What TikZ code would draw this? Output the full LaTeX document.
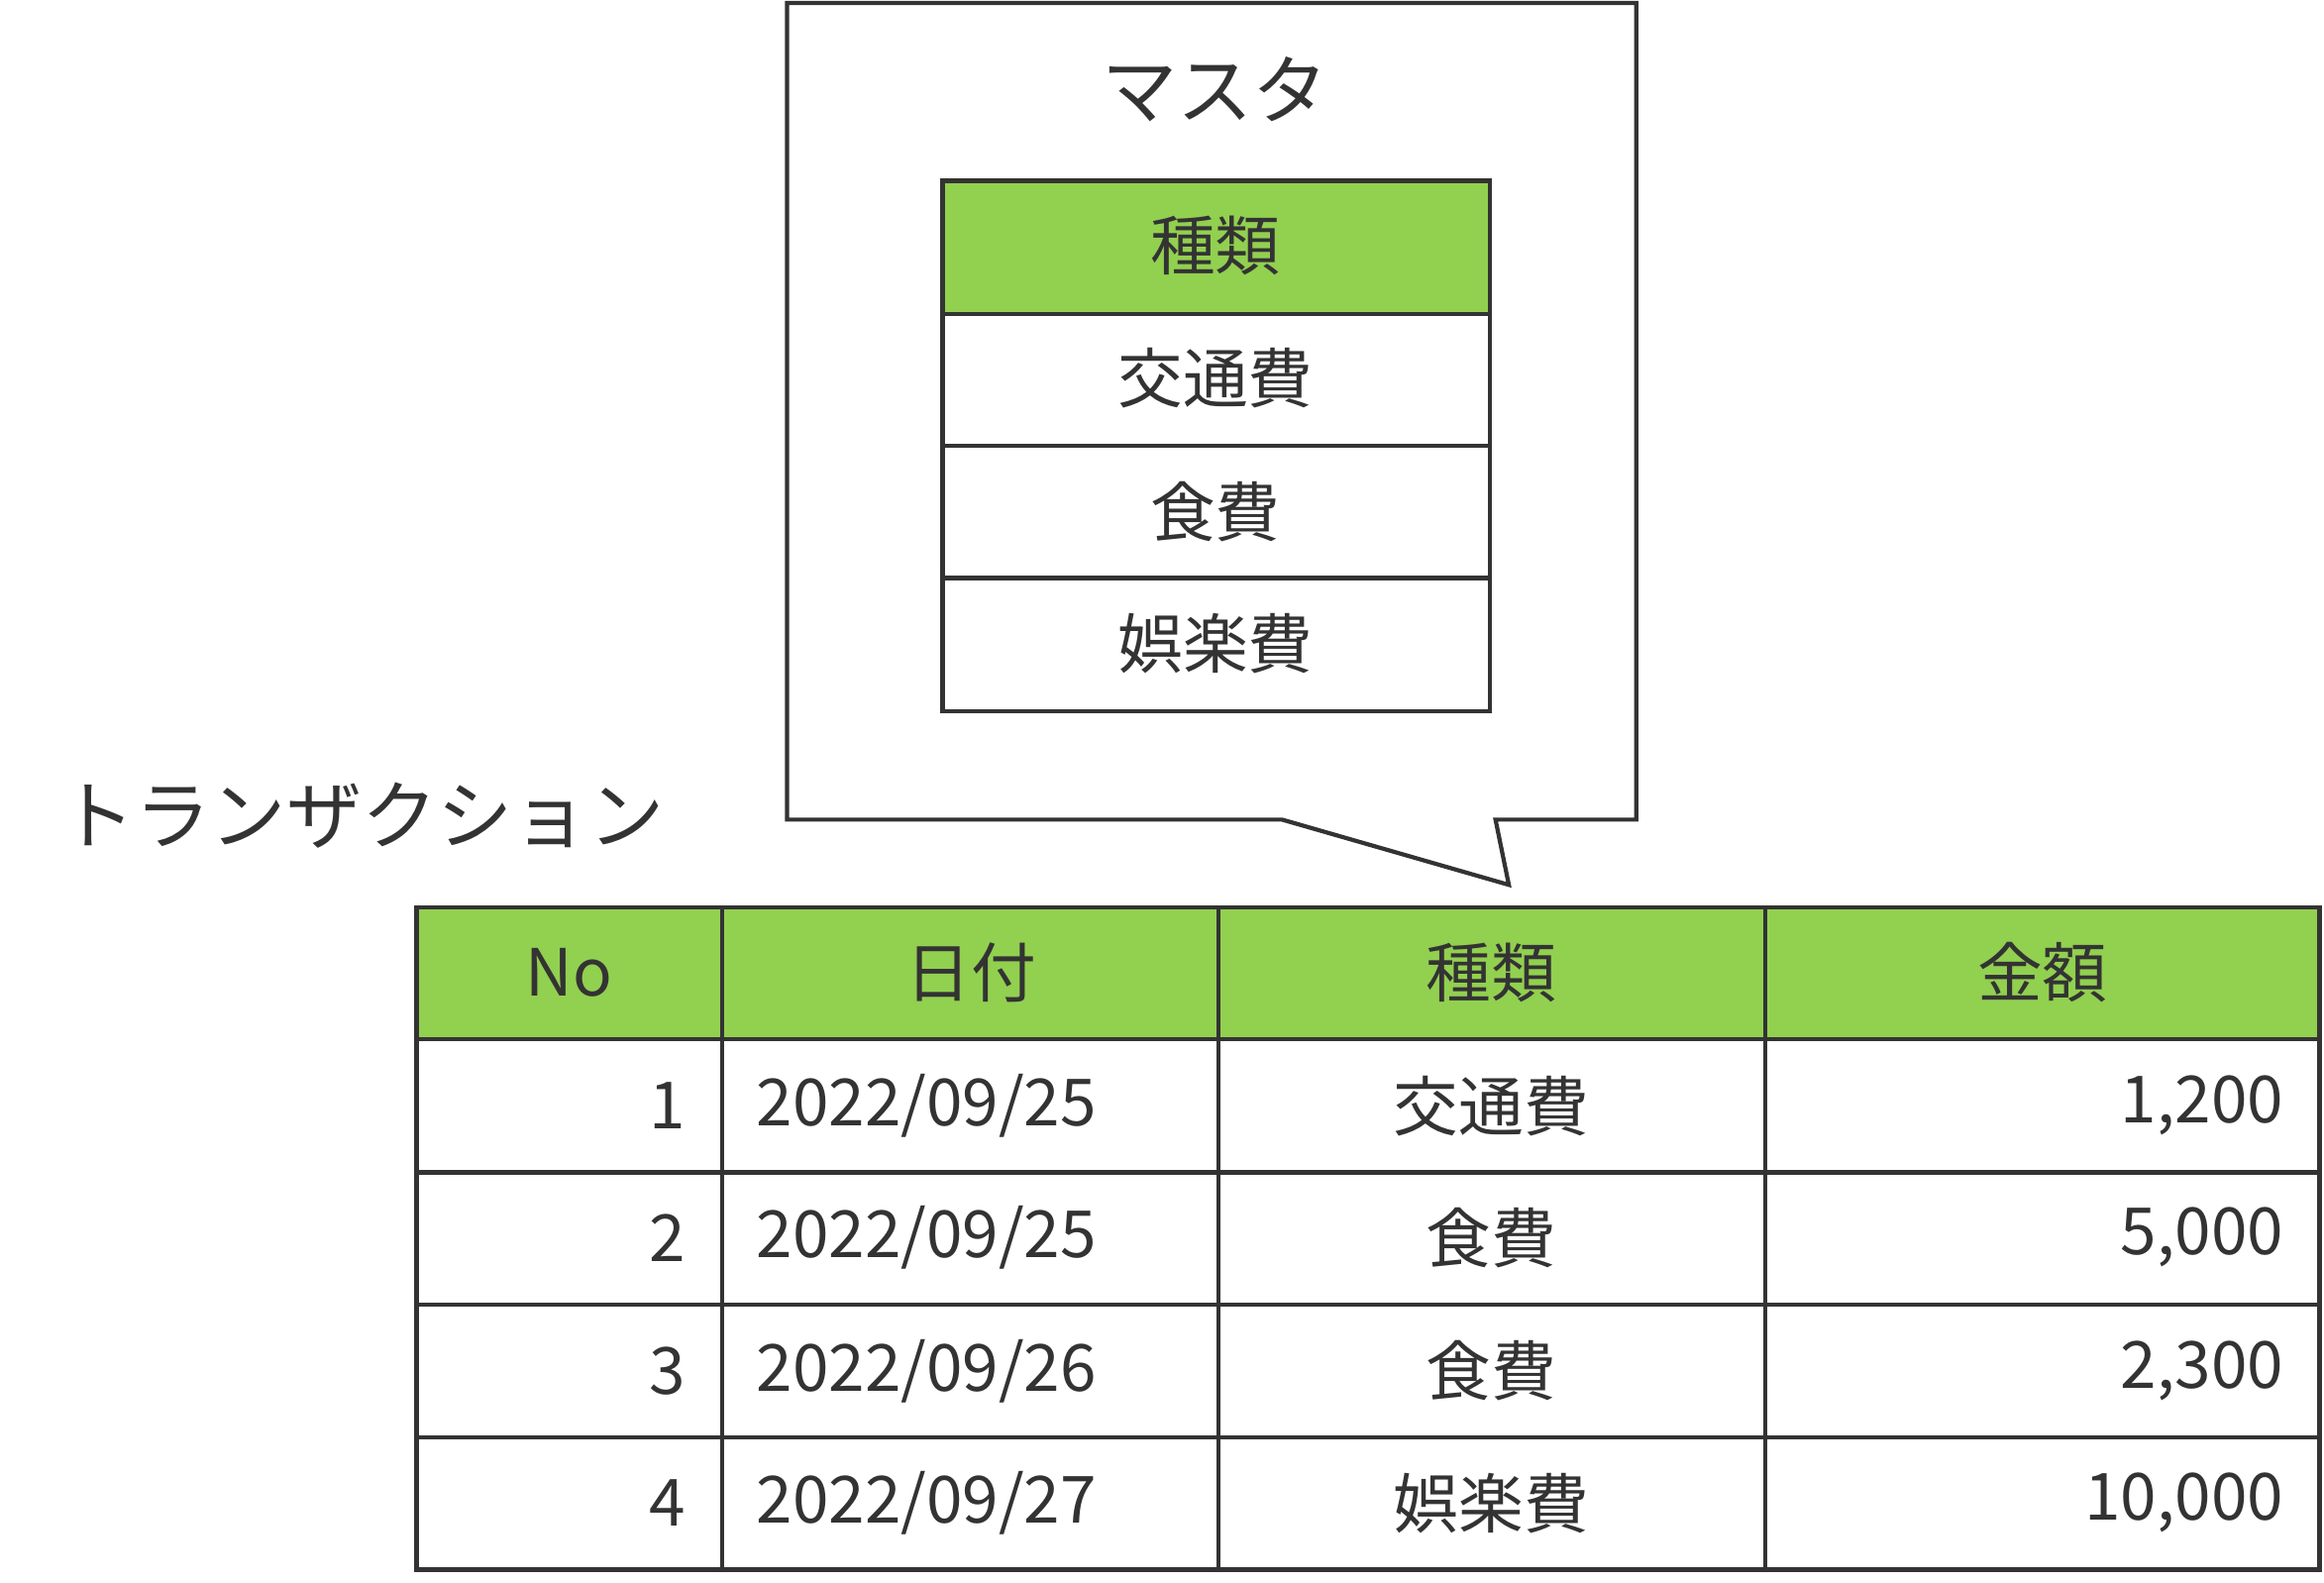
\documentclass[tikz,border=0pt]{standalone}
\usepackage{fontspec}
\setmainfont{Noto Sans CJK JP}
\begin{document}
\begin{tikzpicture}[x=0.02cm,y=-0.02cm,
  ln/.style={draw=black!80,line width=1.6pt},
  hdr/.style={ln,fill=hgreen},
  cell/.style={ln,fill=white},
  tx/.style={text=black!80,font=\fontsize{25}{28}\selectfont,inner sep=0pt},
  ttl/.style={text=black!80,font=\fontsize{29}{32}\selectfont,inner sep=0pt}]
\definecolor{hgreen}{HTML}{92D050}
\useasboundingbox (0,0) rectangle (1568,1068);
% callout
\draw[ln,fill=white] (531,2) -- (1104,2) -- (1104,553) -- (1009,553) -- (1018,597) -- (865,553) -- (531,553) -- cycle;
\node[ttl] (mt) at (820,60) {マスタ};
% master table
\draw[hdr] (636,122) rectangle (1005,212);
\draw[cell] (636,212) rectangle (1005,301);
\draw[cell] (636,301) rectangle (1005,390);
\draw[cell] (636,390) rectangle (1005,480);
\node[tx] (m0) at (820,166) {種類};
\node[tx] (m1) at (820,255) {交通費};
\node[tx] (m2) at (820,345) {食費};
\node[tx] (m3) at (820,434) {娯楽費};
% transaction title
\node[ttl,anchor=west] (tt) at (40,550) {トランザクション};
% transaction table
\foreach \ya/\yb [count=\r] in {612/701,701/791,791/880,880/970,970/1059}{
  \foreach \xa/\xb in {281/487,487/822,822/1191,1191/1565}{
    \ifnum\r=1 \draw[hdr] (\xa,\ya) rectangle (\xb,\yb);
    \else \draw[cell] (\xa,\ya) rectangle (\xb,\yb); \fi
  }
}
\node[tx] (h1) at (384,656) {No};
\node[tx] (h2) at (655,656) {日付};
\node[tx] (h3) at (1006,656) {種類};
\node[tx] (h4) at (1378,656) {金額};
\foreach \y/\n/\d/\k/\a in {746/1/2022\slash 09\slash 25/交通費/{1,200},
  835/2/2022\slash 09\slash 25/食費/{5,000},
  925/3/2022\slash 09\slash 26/食費/{2,300},
  1014/4/2022\slash 09\slash 27/娯楽費/{10,000}}{
  \node[tx,anchor=east] (n\n) at (463,\y) {\n};
  \node[tx,anchor=west] (d\n) at (510,\y) {\d};
  \node[tx] (k\n) at (1006,\y) {\k};
  \node[tx,anchor=east] (a\n) at (1541,\y) {\a};
}
\end{tikzpicture}
\end{document}
